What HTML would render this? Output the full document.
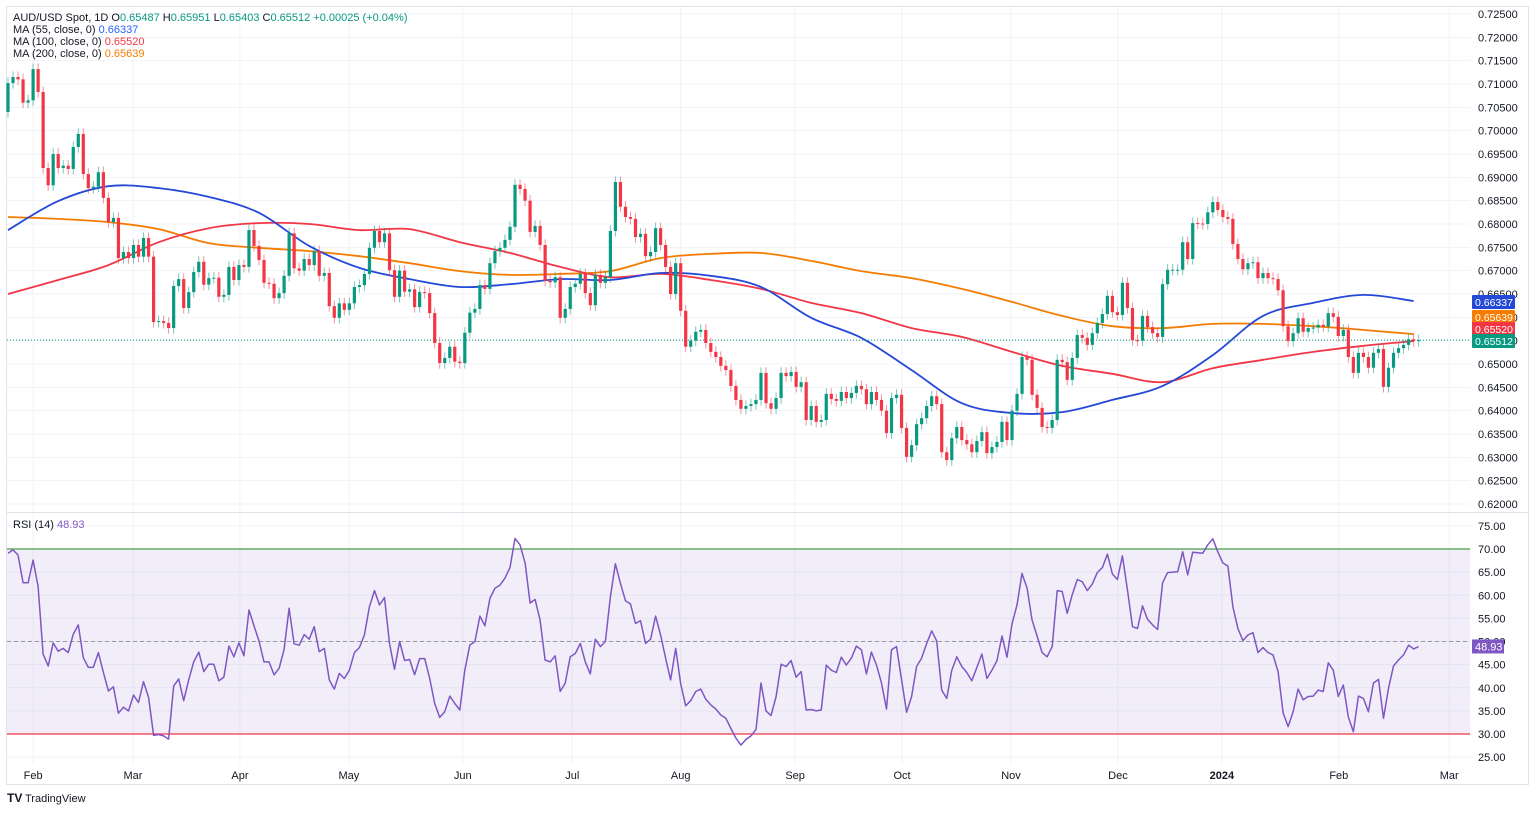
<!DOCTYPE html>
<html><head><meta charset="utf-8">
<style>
html,body{margin:0;padding:0;background:#fff;}
body{width:1536px;height:810px;overflow:hidden;font-family:"Liberation Sans",sans-serif;}
svg text{font-family:"Liberation Sans",sans-serif;}
</style></head>
<body>
<svg id="chart" width="1536" height="810" viewBox="0 0 1536 810" xmlns="http://www.w3.org/2000/svg">
  <rect x="6.5" y="6.5" width="1522" height="778" fill="#fff" stroke="#e0e3eb" stroke-width="1"/>
  <g id="grid"></g>
  <rect x="7" y="549" width="1463" height="185" fill="#7e57c2" fill-opacity="0.1"/>
  <line x1="7" x2="1529" y1="512.5" y2="512.5" stroke="#e0e3eb"/>
  <g id="mas"></g>
  <g id="candles"></g>
  <g id="rsi"></g>
  <g id="axes"></g>
  <g font-size="11" fill="#131722">
    <text x="13" y="21">AUD/USD Spot, 1D  O<tspan fill="#089981">0.65487</tspan>  H<tspan fill="#089981">0.65951</tspan>  L<tspan fill="#089981">0.65403</tspan>  C<tspan fill="#089981">0.65512</tspan>  <tspan fill="#089981">+0.00025 (+0.04%)</tspan></text>
    <text x="13" y="33">MA (55, close, 0)  <tspan fill="#2962ff">0.66337</tspan></text>
    <text x="13" y="45">MA (100, close, 0)  <tspan fill="#f23645">0.65520</tspan></text>
    <text x="13" y="57">MA (200, close, 0)  <tspan fill="#f57c00">0.65639</tspan></text>
    <text x="13" y="528">RSI (14)  <tspan fill="#7e57c2">48.93</tspan></text>
  </g>
  <g>
    <text x="7" y="802" font-size="12" font-weight="bold" fill="#131722">TV</text>
    <text x="25" y="802" font-size="11" fill="#131722">TradingView</text>
  </g>
</svg>
<script>
const closes=[.7102,.7115,.711,.706,.7065,.7132,.7083,.692,.6883,.695,
.692,.6925,.6918,.6965,.6993,.6907,.6877,.688,.6911,.6856,
.6804,.6813,.6727,.674,.6727,.6755,.673,.677,.673,.659,
.6592,.6588,.6577,.6667,.6682,.662,.6654,.6697,.6719,.667,
.6684,.6685,.6644,.6648,.6708,.668,.6712,.6708,.6787,.6753,
.6723,.6674,.6672,.6641,.6652,.6689,.678,.6705,.67,.6725,
.6712,.6742,.6689,.6695,.6624,.6599,.663,.6616,.663,.6665,
.6669,.6693,.6749,.6785,.6761,.678,.6701,.6644,.67,.6655,
.666,.6622,.6654,.6652,.6609,.6545,.6502,.6513,.6537,.6505,
.6502,.6567,.661,.6618,.6669,.6661,.6716,.6742,.6749,.6766,
.6794,.6884,.6875,.685,.6783,.6796,.6755,.6678,.6675,.6686,
.6599,.6618,.6665,.6672,.6693,.6652,.6626,.6691,.6674,.6686,
.6785,.689,.6837,.6815,.6811,.6772,.6779,.6731,.674,.6791,
.6755,.6708,.665,.6716,.6614,.6537,.655,.6569,.6573,.6545,
.6526,.6515,.6496,.6487,.6453,.6423,.6404,.641,.6414,.6423,
.6481,.6416,.6404,.6427,.6481,.6474,.6483,.6451,.6461,.638,
.641,.6376,.638,.6436,.6425,.6421,.644,.6427,.6438,.6453,
.6446,.6414,.644,.6423,.64,.6352,.6427,.6434,.6363,.6301,
.6326,.6371,.6384,.641,.6431,.6414,.6311,.6294,.6341,.6365,
.6337,.6328,.6311,.6335,.6354,.6309,.6322,.6333,.6376,.6337,
.64,.6436,.6515,.6509,.6434,.6406,.6365,.6363,.638,.6509,
.6504,.6466,.6513,.6562,.6556,.6541,.6566,.6588,.6607,.6646,
.6611,.6605,.6674,.662,.6551,.655,.6603,.6579,.6566,.6558,
.6671,.6702,.6702,.6702,.6761,.6725,.6802,.6801,.68,.6825,
.6847,.683,.6815,.6811,.6757,.6725,.6703,.6716,.6718,.6684,
.6695,.6684,.6682,.6658,.6581,.6549,.6566,.6598,.6569,.6577,
.6578,.6584,.658,.6609,.6601,.656,.6573,.6515,.6481,.6524,
.6515,.6492,.6524,.6532,.6451,.6492,.6524,.6534,.6541,.6553,
.6549,.6551];
const firstOpen=0.704;
const wick=0.0012;
const rsiValues=[69.1,69.8,68.7,62.7,62.7,67.6,61.9,47.3,44.7,49.7,
47.9,48.5,47.6,51.6,53.6,46.5,44.4,44.4,47.6,43.3,
39.3,40.2,34.5,35.8,35,38.4,36.8,41.3,37.9,29.7,
29.9,29.6,28.9,40.4,41.9,37.2,41.7,45.6,47.7,43.5,
45.1,45.1,41.5,42.3,49,46.7,49.7,46.9,56.8,53.4,
50.1,45.6,45.6,42.8,44.2,48.3,57.2,49.5,49.2,51.5,
50.5,53.2,47.8,48.5,41.7,39.7,43.1,42,43.8,47.6,
48.7,51.4,57.5,61,57.9,59.5,49.6,44,50,45.9,
46.1,42.8,46.3,46.3,42,36.6,33.6,34.8,38.2,36.6,
35.2,43.8,49.2,50,55.5,53.4,59.3,61.5,62.2,63.7,
66,72.3,70.9,67,58.3,59.1,54.6,46,45.6,46.9,
39.2,41,46.7,47.4,49.6,45.6,43,50.5,48.9,50,
59.7,66.8,62.6,58.8,58.1,53.9,54.5,49.6,50.5,55.5,
51.4,46.4,41.7,48.5,40.8,36.1,37.2,39.2,39.7,37.5,
36.3,35.4,34.1,33.4,31.2,29.1,27.6,28.8,29.6,31,
41,35,34,38.1,45.1,44.6,45.9,42.3,43.5,35.2,
35.3,35,35.2,44.9,43.8,43.3,46.6,44.9,46.4,49,
48.2,43,47.7,44.9,41,35.4,48.2,48.9,41.7,34.7,
38.1,44.6,46.4,49.6,52.3,50.1,39.5,37.7,43.8,46.7,
44.6,43.3,41.5,44.4,47.3,42,43.8,45.8,51.2,46.6,
53.8,57.9,64.7,61.5,54.6,51.2,47.6,46.7,48.9,61,
60.8,56.1,60.1,63.4,62.9,61,62.4,64.9,66,68.9,
64.6,63.4,68.5,61.1,53.2,52.8,57.7,54.8,53.6,52.6,
62.7,64.9,65,65.1,69.4,64.4,69.3,69.2,69.1,70.9,
72.2,69.4,67,66.3,57.5,52.8,50.2,51.4,51.9,47.6,
48.7,47.6,47.1,43.5,34.6,31.6,34.8,39.7,37.4,38.1,
38.2,39.5,39.2,45.4,43.8,38.1,40.6,33.7,30.5,38.2,
37.7,34.8,41,41.8,33.4,39.9,44.7,46,47.1,49.2,
48.4,48.9];
const maIdx=[0,10,20,30,40,50,60,70,80,90,100,110,120,130,140,150,160,170,180,190,200,210,220,230,240,250,260,270,280];
const ma55=[0.6787,0.6849,0.6881,0.6877,0.6858,0.6824,0.6753,0.6706,0.6682,0.6665,0.6671,0.6682,0.668,0.6695,0.6689,0.6665,0.6599,0.6556,0.6487,0.6416,0.6395,0.6397,0.6423,0.6453,0.6519,0.6603,0.6631,0.6648,0.6635];
const ma100=[0.665,0.668,0.6712,0.6761,0.6791,0.6802,0.68,0.6787,0.6789,0.6761,0.6738,0.6708,0.6686,0.6693,0.668,0.6661,0.6631,0.6609,0.6577,0.6558,0.6526,0.6496,0.6479,0.6461,0.6491,0.6509,0.6526,0.6539,0.6549];
const ma200=[0.6815,0.6811,0.6804,0.6789,0.6759,0.6749,0.6742,0.6731,0.6716,0.6699,0.6691,0.6693,0.6699,0.6727,0.6736,0.6738,0.6721,0.6699,0.6684,0.6661,0.6633,0.6603,0.6581,0.6577,0.6586,0.6586,0.6581,0.6573,0.6564];
const priceTicks=["0.72500","0.72000","0.71500","0.71000","0.70500","0.70000","0.69500","0.69000","0.68500","0.68000","0.67500","0.67000","0.66500","0.66000","0.65500","0.65000","0.64500","0.64000","0.63500","0.63000","0.62500","0.62000"];
const rsiTicks=["75.00","70.00","65.00","60.00","55.00","50.00","45.00","40.00","35.00","30.00","25.00"];
const monthLabels=["Feb","Mar","Apr","May","Jun","Jul","Aug","Sep","Oct","Nov","Dec","2024","Feb","Mar"];
const monthBars=[5,24.9,46.2,67.9,90.6,112.4,134,156.8,178.1,199.8,221.1,241.8,265.1,287.1];
const lastPrice=0.65512, lastRsi=48.93;

const NS="http://www.w3.org/2000/svg";
function mk(tag,attrs,parent){const e=document.createElementNS(NS,tag);for(const k in attrs)e.setAttribute(k,attrs[k]);parent.appendChild(e);return e;}
function xOf(i){return 8+i*5.02;}
function yP(p){return 14+(0.725-p)*4666.67;}
function yR(v){return 549+(70-v)*4.625;}

const grid=document.getElementById('grid');
priceTicks.forEach(t=>{const y=yP(parseFloat(t));const l=mk('line',{x1:7,x2:1470,y1:y,y2:y,stroke:'#f0f3fa'},grid);

});
rsiTicks.forEach(t=>{const y=yR(parseFloat(t));const l=mk('line',{x1:7,x2:1470,y1:y,y2:y,stroke:'#f0f3fa'},grid);

});
monthBars.forEach(b=>{const x=xOf(b);const l=mk('line',{x1:x,x2:x,y1:7,y2:765,stroke:'#f0f3fa'},grid);

});

// moving averages (smoothed through sample points)
function smoothPath(pts){
  let d='M'+pts[0][0].toFixed(1)+','+pts[0][1].toFixed(1);
  for(let k=0;k<pts.length-1;k++){
    const p0=pts[Math.max(0,k-1)],p1=pts[k],p2=pts[k+1],p3=pts[Math.min(pts.length-1,k+2)];
    const c1x=p1[0]+(p2[0]-p0[0])/6,c1y=p1[1]+(p2[1]-p0[1])/6;
    const c2x=p2[0]-(p3[0]-p1[0])/6,c2y=p2[1]-(p3[1]-p1[1])/6;
    d+=' C'+c1x.toFixed(1)+','+c1y.toFixed(1)+' '+c2x.toFixed(1)+','+c2y.toFixed(1)+' '+p2[0].toFixed(1)+','+p2[1].toFixed(1);
  }
  return d;
}
const mas=document.getElementById('mas');
[[ma200,'#f57c00','ma200-line'],[ma100,'#f23645','ma100-line'],[ma55,'#2448d8','ma55-line']].forEach(([arr,c,n])=>{
  const pts=arr.map((v,k)=>[xOf(maIdx[k]),yP(v)]);
  const pl=mk('path',{d:smoothPath(pts),fill:'none',stroke:c,'stroke-width':1.8,'stroke-linejoin':'round'},mas);
  
  
});

const lp=mk('line',{x1:7,x2:1470,y1:yP(lastPrice),y2:yP(lastPrice),stroke:'#089981','stroke-dasharray':'1,2'},mas);



// candles
const cg=document.getElementById('candles');
closes.forEach((c,i)=>{
  const o=i===0?firstOpen:closes[i-1];
  const up=c>=o;const col=up?'#089981':'#f23645';
  const hi=Math.max(o,c)+wick, lo=Math.min(o,c)-wick;
  const x=xOf(i);
  const w=mk('line',{x1:x,x2:x,y1:yP(hi),y2:yP(lo),stroke:col,'stroke-opacity':0.55,'stroke-width':1},cg);
  
  
  const yt=yP(Math.max(o,c)), yb=yP(Math.min(o,c));
  const b=mk('rect',{x:x-1.6,y:yt,width:3.2,height:Math.max(1,yb-yt),fill:col},cg);
  
  
});

// RSI
const rg=document.getElementById('rsi');
const l70=mk('line',{x1:7,x2:1470,y1:yR(70),y2:yR(70),stroke:'#43a047','stroke-width':1.2},rg);


const l30=mk('line',{x1:7,x2:1470,y1:yR(30),y2:yR(30),stroke:'#f23645','stroke-width':1.2},rg);


const l50=mk('line',{x1:7,x2:1470,y1:yR(50),y2:yR(50),stroke:'#9598a1','stroke-dasharray':'4,3'},rg);


const rp=mk('polyline',{points:rsiValues.map((v,i)=>xOf(i).toFixed(1)+','+yR(v).toFixed(1)).join(' '),fill:'none',stroke:'#7e57c2','stroke-width':1.5,'stroke-linejoin':'round'},rg);



// axes
const ax=document.getElementById('axes');
priceTicks.forEach(t=>{const tx=mk('text',{x:1478,y:yP(parseFloat(t))+4,'font-size':11,fill:'#131722'},ax);tx.textContent=t;

});
rsiTicks.forEach(t=>{const tx=mk('text',{x:1478,y:yR(parseFloat(t))+4,'font-size':11,fill:'#131722'},ax);tx.textContent=t;

});
monthLabels.forEach((m,k)=>{const tx=mk('text',{x:xOf(monthBars[k]),y:779,'font-size':11,fill:'#131722','text-anchor':'middle','font-weight':m==='2024'?'bold':'normal'},ax);tx.textContent=m;

});

function badge(yc,col,name,txt){
  const r=mk('rect',{x:1472,y:yc-7,width:43,height:14,fill:col,rx:1},ax);
  
  
  const t=mk('text',{x:1475,y:yc+4,'font-size':10.5,fill:'#fff'},ax);t.textContent=txt;
  
  
}
badge(302,'#2448d8','ma55-badge','0.66337');
badge(317,'#f57c00','ma200-badge','0.65639');
badge(329,'#f23645','ma100-badge','0.65520');
badge(341,'#089981','last-price-badge','0.65512');
const rb=mk('rect',{x:1472,y:yR(lastRsi)-7,width:32,height:14,fill:'#7e57c2'},ax);


const rt=mk('text',{x:1475,y:yR(lastRsi)+4,'font-size':11,fill:'#fff'},ax);rt.textContent=lastRsi.toFixed(2);


</script>
</body></html>
